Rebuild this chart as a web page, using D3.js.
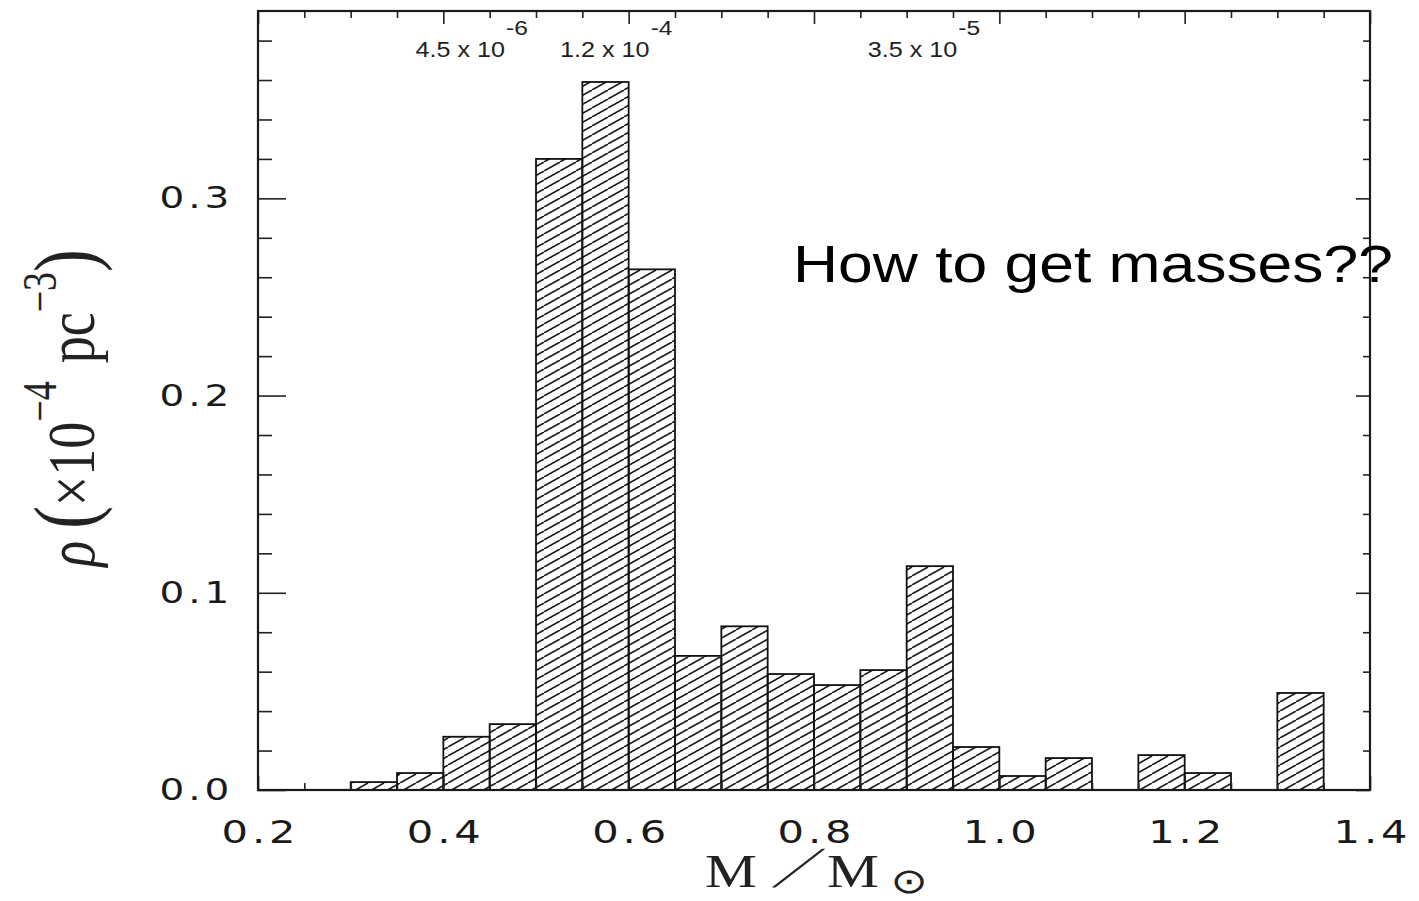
<!DOCTYPE html>
<html>
<head>
<meta charset="utf-8">
<script src="https://cdn.jsdelivr.net/npm/d3@7"></script>
<style>
  body { margin: 0; background: #fff; }
</style>
</head>
<body>
<div id="chart"></div>
<script>
// histogram bins (lower edge, M/Msun) and density (x1e-4 pc^-3)
var binStart = [0.30, 0.35, 0.40, 0.45, 0.50, 0.55, 0.60, 0.65, 0.70, 0.75,
                0.80, 0.85, 0.90, 0.95, 1.00, 1.05, 1.15, 1.20, 1.30];
var density  = [0.004, 0.0086, 0.027, 0.0334, 0.320, 0.359, 0.264, 0.068, 0.083, 0.0588,
                0.0532, 0.0608, 0.1135, 0.0218, 0.0071, 0.0162, 0.0177, 0.0086, 0.0492];
var binWidth = 0.05;

var xTicks = [0.2, 0.4, 0.6, 0.8, 1.0, 1.2, 1.4];
var yTicks = [0.0, 0.1, 0.2, 0.3];

// integrated values written over the top of the plot
var noteText = ["4.5  x 10", "1.2 x 10", "3.5 x 10"];
var noteExp  = ["-6", "-4", "-5"];
var noteAt   = [0.37, 0.526, 0.858];

var width = 1419, height = 901;
// (window.top is read-only, so no plain "top" here)
var plotLeft = 258, plotRight = 1370, plotTop = 11, plotBottom = 790;

var x = d3.scaleLinear().domain([0.2, 1.4]).range([plotLeft, plotRight]);
var y = d3.scaleLinear().domain([0, 0.395]).range([plotBottom, plotTop]);

var xMinor = d3.range(0.2, 1.401, 0.05).filter(function(v) {
  return Math.abs(v / 0.2 - Math.round(v / 0.2)) > 1e-6;
});
var yMinor = d3.range(0.02, 0.39, 0.02).filter(function(v) {
  return Math.abs(v / 0.1 - Math.round(v / 0.1)) > 1e-6;
});

var svg = d3.select("#chart").append("svg")
    .attr("width", width)
    .attr("height", height)
    .style("background", "#fff");

// diagonal hatching like the original plot
var pat = svg.append("defs").append("pattern")
    .attr("id", "hatch")
    .attr("patternUnits", "userSpaceOnUse")
    .attr("width", 16)
    .attr("height", 9);
pat.append("path")
    .attr("d", "M0,9 L16,0 M-8,4.5 L0,0 M16,9 L24,4.5")
    .attr("stroke", "#1a1a1a")
    .attr("stroke-width", 1.6);

// bars
svg.append("g").selectAll("rect")
    .data(binStart)
    .enter().append("rect")
    .attr("x", function(d) { return x(d); })
    .attr("width", function(d) { return x(d + binWidth) - x(d); })
    .attr("y", function(d, i) { return y(density[i]); })
    .attr("height", function(d, i) { return y(0) - y(density[i]); })
    .attr("fill", "url(#hatch)")
    .attr("stroke", "#111")
    .attr("stroke-width", 1.8);

// axes, all ticks point inward
function cleanAxis(g) {
  g.select(".domain").remove();
  g.selectAll("line").attr("stroke", "#222").attr("stroke-width", 1.6);
}

var tickFont = "DejaVu Sans";

var gb = svg.append("g").attr("transform", "translate(0," + plotBottom + ")")
    .call(d3.axisBottom(x).tickValues(xTicks).tickSize(-14).tickPadding(30)
          .tickFormat(d3.format(".1f")));
gb.call(cleanAxis);
gb.selectAll("text")
    .attr("font-family", tickFont)
    .attr("font-size", 32)
    .attr("letter-spacing", 3)
    .attr("dx", 1.5)
    .attr("fill", "#1a1a1a")
    .attr("transform", "scale(1.3,1)");

svg.append("g").attr("transform", "translate(0," + plotBottom + ")")
    .call(d3.axisBottom(x).tickValues(xMinor).tickSize(-7).tickFormat(""))
    .call(cleanAxis);

svg.append("g").attr("transform", "translate(0," + plotTop + ")")
    .call(d3.axisTop(x).tickValues(xTicks).tickSize(-13).tickFormat(""))
    .call(cleanAxis);
svg.append("g").attr("transform", "translate(0," + plotTop + ")")
    .call(d3.axisTop(x).tickValues(xMinor).tickSize(-7).tickFormat(""))
    .call(cleanAxis);

var gl = svg.append("g").attr("transform", "translate(" + plotLeft + ",0)")
    .call(d3.axisLeft(y).tickValues(yTicks).tickSize(-28).tickPadding(28)
          .tickFormat(d3.format(".1f")));
gl.call(cleanAxis);
gl.selectAll("text")
    .attr("font-family", tickFont)
    .attr("font-size", 30)
    .attr("letter-spacing", 3)
    .attr("x", -19)
    .attr("fill", "#1a1a1a")
    .attr("transform", "scale(1.3,1)");

svg.append("g").attr("transform", "translate(" + plotLeft + ",0)")
    .call(d3.axisLeft(y).tickValues(yMinor).tickSize(-14).tickFormat(""))
    .call(cleanAxis);

svg.append("g").attr("transform", "translate(" + plotRight + ",0)")
    .call(d3.axisRight(y).tickValues(yTicks).tickSize(-14).tickFormat(""))
    .call(cleanAxis);
svg.append("g").attr("transform", "translate(" + plotRight + ",0)")
    .call(d3.axisRight(y).tickValues(yMinor).tickSize(-7).tickFormat(""))
    .call(cleanAxis);

// frame
svg.append("rect")
    .attr("x", plotLeft).attr("y", plotTop)
    .attr("width", plotRight - plotLeft).attr("height", plotBottom - plotTop)
    .attr("fill", "none")
    .attr("stroke", "#1a1a1a")
    .attr("stroke-width", 2.2);

// notes over the top
noteText.forEach(function(t, i) {
  var g = svg.append("g")
      .attr("transform", "translate(" + x(noteAt[i]) + ",57) scale(1.17,1)");
  var txt = g.append("text")
      .attr("font-family", "Liberation Sans, Arial, sans-serif")
      .attr("font-size", 21.5)
      .attr("fill", "#222");
  txt.append("tspan").text(t);
  txt.append("tspan").attr("dx", 1).attr("dy", -22).attr("font-size", 21).text(noteExp[i]);
});

// y label
var yl = svg.append("g")
    .attr("transform", "translate(94,408) scale(1.27,1) rotate(-90)")
    .append("text")
    .attr("text-anchor", "middle")
    .attr("font-family", "Liberation Serif, Times New Roman, serif")
    .attr("font-size", 54)
    .attr("fill", "#222");
yl.append("tspan").attr("font-style", "italic").text("ρ");
yl.append("tspan").attr("dx", 12).attr("font-size", 68).text("(");
yl.append("tspan").text("×10");
yl.append("tspan").attr("dy", -30).attr("font-size", 38).text("−4");
yl.append("tspan").attr("dy", 30).attr("dx", 18).text("pc");
yl.append("tspan").attr("dy", -30).attr("font-size", 38).text("−3");
yl.append("tspan").attr("dy", 30).attr("font-size", 68).text(")");

// x label, pieces placed in the stretched group's units
var xg = svg.append("g")
    .attr("transform", "translate(705,887) scale(1.27,1)");
var xl = xg.append("text")
    .attr("font-family", "Liberation Serif, Times New Roman, serif")
    .attr("font-size", 46)
    .attr("fill", "#222");
xl.append("tspan").text("M");
xl.append("tspan").attr("x", 96).text("M");
xl.append("tspan").attr("x", 146).attr("dy", 6).attr("font-family", "DejaVu Sans")
    .attr("font-size", 35).text("⊙");
// the long leaning slash between the two M's
xg.append("text")
    .attr("transform", "translate(53,0) skewX(-34)")
    .attr("font-family", "Liberation Serif, Times New Roman, serif")
    .attr("font-size", 58)
    .attr("fill", "#222")
    .text("/");

// slide annotation
svg.append("g")
    .attr("transform", "translate(793,282) scale(1.2,1)")
    .append("text")
    .attr("font-family", "Liberation Sans, Arial, sans-serif")
    .attr("font-size", 52)
    .attr("fill", "#000")
    .text("How to get masses??");
</script>
</body>
</html>
